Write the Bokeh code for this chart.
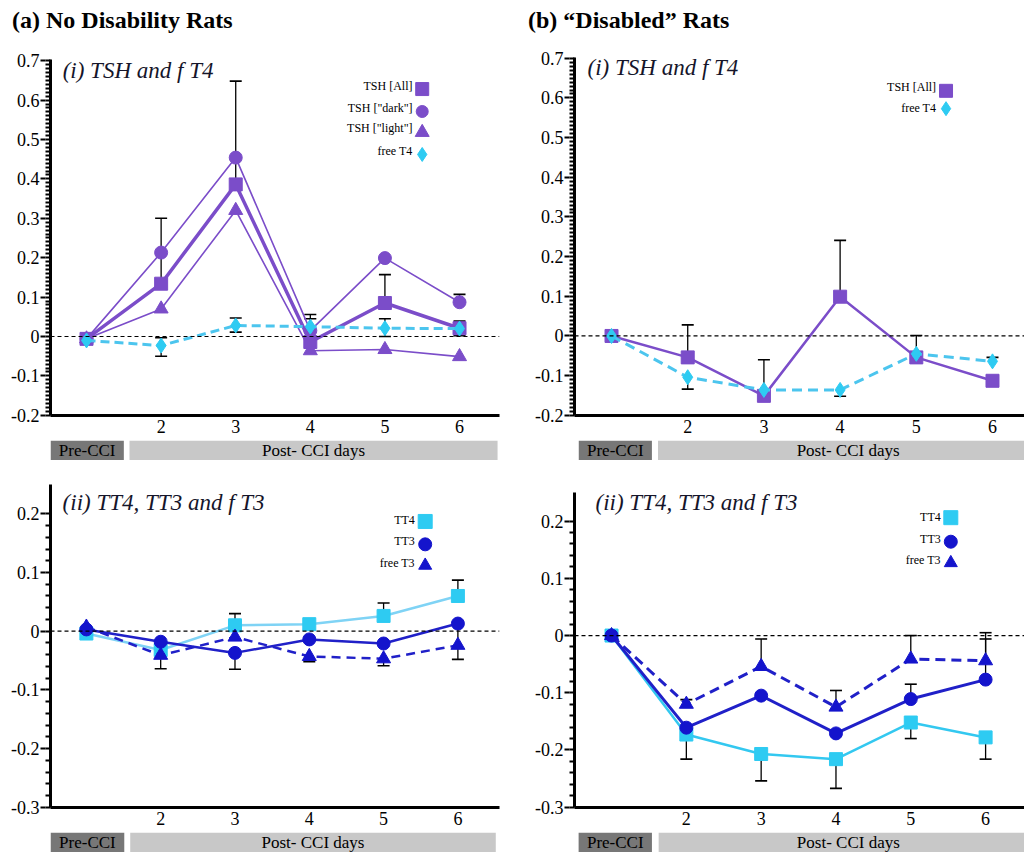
import numpy as np
from bokeh.plotting import figure
from bokeh.models import Range1d, Span, FixedTicker, CustomJSTickFormatter, Div, LinearAxis
from bokeh.layouts import row, column
from bokeh.core.properties import value
from bokeh.embed import file_html
from bokeh.resources import INLINE

nan = np.nan
FONT = "Liberation Serif"

# ---------------- data ----------------
days = [1, 2, 3, 4, 5, 6]
x_tick_days = [2, 3, 4, 5, 6]
x_tick_labels = ["2", "3", "4", "5", "6"]
y_ticks_i = [-0.2, -0.1, 0.0, 0.1, 0.2, 0.3, 0.4, 0.5, 0.6, 0.7]
y_ticks_ii = [-0.3, -0.2, -0.1, 0.0, 0.1, 0.2]

# (a)(i) No disability: TSH and free T4
a_tsh_all = [-0.006, 0.134, 0.386, -0.014, 0.085, 0.021]
a_tsh_dark = [-0.006, 0.213, 0.454, 0.015, 0.199, 0.087]
a_tsh_light = [-0.006, 0.070, 0.320, -0.036, -0.033, -0.051]
a_ft4 = [-0.010, -0.023, 0.028, 0.025, 0.021, 0.020]
a_tsh_all_err = [nan, 0.300, 0.648, 0.056, 0.157, nan]
a_tsh_dark_err = [nan, nan, nan, nan, nan, 0.107]
a_ft4_err_lo = [nan, -0.050, 0.011, nan, 0.000, 0.002]
a_ft4_err_hi = [nan, -0.003, 0.047, 0.045, 0.045, 0.039]

# (b)(i) Disabled: TSH and free T4
b_tsh_all = [0.000, -0.054, -0.151, 0.099, -0.054, -0.113]
b_ft4 = [0.000, -0.104, -0.136, -0.136, -0.045, -0.064]
b_tsh_all_err = [nan, 0.028, -0.060, 0.241, 0.001, nan]
b_ft4_err_lo = [nan, -0.134, nan, -0.152, nan, nan]
b_ft4_err_hi = [nan, nan, nan, nan, nan, -0.054]

# (a)(ii) No disability: TT4, TT3, free T3
a_tt4 = [-0.004, -0.032, 0.010, 0.012, 0.026, 0.060]
a_tt3 = [0.003, -0.018, -0.037, -0.014, -0.021, 0.013]
a_ft3 = [0.007, -0.041, -0.010, -0.043, -0.047, -0.024]
a_tt4_err = [nan, nan, 0.030, nan, 0.048, 0.087]
a_tt3_err = [nan, nan, -0.065, nan, nan, -0.048]
a_ft3_err = [nan, -0.064, nan, -0.052, -0.059, nan]

# (b)(ii) Disabled: TT4, TT3, free T3
b_tt4 = [0.000, -0.173, -0.207, -0.216, -0.152, -0.178]
b_tt3 = [0.000, -0.161, -0.105, -0.171, -0.111, -0.077]
b_ft3 = [0.000, -0.120, -0.054, -0.125, -0.041, -0.044]
b_tt4_err = [nan, -0.216, -0.254, -0.267, -0.180, -0.216]
b_tt3_err = [nan, nan, nan, nan, -0.085, -0.006]
b_ft3_err = [nan, -0.112, -0.006, -0.096, 0.000, 0.005]

legend_i_a = ["TSH [All]", "TSH [\"dark\"]", "TSH [\"light\"]", "free T4"]
legend_i_b = ["TSH [All]", "free T4"]
legend_ii = ["TT4", "TT3", "free T3"]

# ---------------- styles ----------------
PURPLE = "#7B4DC9"
CYAN = "#2ECBF2"
CYAN_LINE = "#4CC5EE"
CYAN_LIGHT_LINE = "#7FD3F5"
BLUE = "#1414CC"
BLUE_LINE = "#2020C8"


def ytick_fmt():
    return CustomJSTickFormatter(code="""
const t = Math.round(tick * 10) / 10;
return t === 0 ? "0" : t.toFixed(1);
""")


def all_ticks(major, n):
    step = (major[1] - major[0]) / n
    out = []
    for i in range(len(major) - 1):
        for j in range(n):
            out.append(round(major[i] + j * step, 4))
    out.append(major[-1])
    return out


def base_fig(width, height, xr, yr, mbl, mbr, mbt, mbb, yticks, minor):
    p = figure(width=width, height=height, x_range=xr, y_range=Range1d(*yr),
               output_backend="svg", toolbar_location=None, y_axis_location=None,
               min_border_left=mbl, min_border_right=mbr,
               min_border_top=mbt, min_border_bottom=mbb)
    p.outline_line_color = None
    p.grid.visible = False
    xa = p.xaxis[0]
    xa.ticker = FixedTicker(ticks=x_tick_days)
    xa.major_label_overrides = dict(zip(x_tick_days, x_tick_labels))
    xa.axis_line_width = 3
    xa.major_tick_out = 0
    xa.major_tick_in = 0
    xa.minor_tick_out = 0
    xa.minor_tick_in = 0
    xa.major_label_standoff = 4
    xa.major_label_text_font = FONT
    xa.major_label_text_font_size = "18px"
    xa.major_label_text_color = "black"

    # inner axis: the line and the fine comb of short ticks, no labels
    comb = LinearAxis(ticker=FixedTicker(ticks=all_ticks(yticks, minor)),
                      formatter=CustomJSTickFormatter(code='return "";'),
                      axis_line_width=3, axis_line_color="black",
                      major_tick_out=5, major_tick_in=0,
                      major_tick_line_width=2, major_tick_line_color="black",
                      minor_tick_out=0, minor_tick_in=0,
                      major_label_standoff=0, major_label_text_font_size="1px")
    # outer axis: longer ticks at the labelled values and the labels
    lab = LinearAxis(ticker=FixedTicker(ticks=yticks), formatter=ytick_fmt(),
                     axis_line_color=None,
                     major_tick_out=5, major_tick_in=0,
                     major_tick_line_width=2, major_tick_line_color="black",
                     minor_tick_out=0, minor_tick_in=0,
                     major_label_standoff=1, major_label_text_font=FONT,
                     major_label_text_font_size="18px",
                     major_label_text_color="black")
    p.add_layout(comb, "left")
    p.add_layout(lab, "left")
    p.add_layout(Span(location=0, dimension="width", line_color="black",
                      line_width=1.2, line_dash="4 3"))
    return p


def errbars(p, base, end, color="black"):
    b = np.array(base, dtype=float)
    e = np.array(end, dtype=float)
    x = np.array(days, dtype=float)
    p.segment(x0=x, y0=b, x1=x, y1=e, line_color=color, line_width=1.3)
    p.scatter(x=x, y=e, marker="dash", size=12, line_color=color, line_width=1.6)


def series(p, y, marker, size, fill, line_color, lw, dash="solid"):
    p.line(days, y, line_color=line_color, line_width=lw, line_dash=dash)
    p.scatter(days, y, marker=marker, size=size, fill_color=fill,
              line_color=fill, line_width=1)


def legend(p, xt, xm, yt, ym, labels, markers, colors, sizes):
    p.text(x=[xt] * len(labels), y=yt, text=labels, text_align="right",
           text_baseline="middle", text_font=value(FONT), text_font_size="12px",
           text_color="black")
    for y, m, c, s in zip(ym, markers, colors, sizes):
        p.scatter(x=[xm], y=[y], marker=m, size=s, fill_color=c, line_color=c)


def subtitle(p, x, y, txt):
    p.text(x=[x], y=[y], text=[txt], text_align="left", text_baseline="middle",
           text_font=value(FONT), text_font_style="italic", text_font_size="23px",
           text_color="#15152a")


def title_div(txt, pad_left):
    return Div(text=txt, width=512, height=40, margin=(0, 0, 0, 0),
               styles={"font-family": FONT, "font-weight": "bold",
                       "font-size": "24px", "padding-left": f"{pad_left}px",
                       "padding-top": "6px", "line-height": "28px",
                       "color": "black", "white-space": "nowrap"})


def strip(xr, width, height, mbl, mbr, pre, post):
    s = figure(width=width, height=height, x_range=xr, y_range=Range1d(0, 1),
               output_backend="svg", toolbar_location=None,
               x_axis_location=None, y_axis_location=None,
               min_border_left=mbl, min_border_right=mbr,
               min_border_top=0, min_border_bottom=0)
    s.outline_line_color = None
    s.grid.visible = False
    s.quad(left=[pre[0], post[0]], right=[pre[1], post[1]], bottom=0, top=1,
           fill_color=["#777777", "#c8c8c8"], line_color=None)
    s.text(x=[(pre[0] + pre[1]) / 2, (post[0] + post[1]) / 2], y=[0.5, 0.5],
           text=["Pre-CCI", "Post- CCI days"], text_align="center",
           text_baseline="middle", text_font=value(FONT), text_font_size="17px",
           text_color="black")
    return s


# ---------------- (a)(i) ----------------
xr_a1 = Range1d(0.517, 6.536)
d1 = title_div("(a) No Disability Rats", 12)
p1 = base_fig(512, 400, xr_a1, (-0.2005, 0.703), 50, 13, 19, 25, y_ticks_i, 10)
errbars(p1, a_tsh_all, a_tsh_all_err)
errbars(p1, a_tsh_dark, a_tsh_dark_err)
errbars(p1, a_ft4, a_ft4_err_lo)
errbars(p1, a_ft4, a_ft4_err_hi)
series(p1, a_tsh_light, "triangle", 14, PURPLE, PURPLE, 1.6)
series(p1, a_tsh_dark, "circle", 13, PURPLE, PURPLE, 1.6)
series(p1, a_tsh_all, "square", 13, PURPLE, PURPLE, 3.5)
series(p1, a_ft4, "diamond", 15, CYAN, CYAN_LINE, 3, dash="9 5")
subtitle(p1, 0.68, 0.675, "(i) TSH and f T4")
legend(p1, 5.37, 5.50, [0.635, 0.579, 0.528, 0.470], [0.628, 0.571, 0.518, 0.462],
       legend_i_a, ["square", "circle", "triangle", "diamond"],
       [PURPLE, PURPLE, PURPLE, CYAN], [13, 12, 14, 14])
s1 = strip(xr_a1, 512, 20, 50, 13, (0.517, 1.50), (1.576, 6.51))

# ---------------- (b)(i) ----------------
xr_b1 = Range1d(0.514, 6.42)
d2 = title_div("(b) \u201cDisabled\u201d Rats", 16)
p2 = base_fig(512, 400, xr_b1, (-0.2005, 0.702), 62, 0, 17, 25, y_ticks_i, 10)
errbars(p2, b_tsh_all, b_tsh_all_err)
errbars(p2, b_ft4, b_ft4_err_lo)
errbars(p2, b_ft4, b_ft4_err_hi)
series(p2, b_tsh_all, "square", 13, PURPLE, PURPLE, 2.5)
series(p2, b_ft4, "diamond", 15, CYAN, CYAN_LINE, 3, dash="10 6")
subtitle(p2, 0.685, 0.676, "(i) TSH and f T4")
legend(p2, 5.26, 5.39, [0.628, 0.575], [0.618, 0.573], legend_i_b,
       ["square", "diamond"], [PURPLE, CYAN], [13, 14])
s2 = strip(xr_b1, 512, 20, 62, 0, (0.57, 1.53), (1.61, 6.6))

# ---------------- (a)(ii) ----------------
xr_a2 = Range1d(0.517, 6.56)
p3 = base_fig(512, 372, xr_a2, (-0.3005, 0.25), 50, 10, 24, 25, y_ticks_ii, 5)
errbars(p3, a_tt4, a_tt4_err)
errbars(p3, a_tt3, a_tt3_err)
errbars(p3, a_ft3, a_ft3_err)
series(p3, a_tt4, "square", 13, CYAN, CYAN_LIGHT_LINE, 2.5)
series(p3, a_ft3, "triangle", 14, BLUE, BLUE_LINE, 2.5, dash="9 6")
series(p3, a_tt3, "circle", 13, BLUE, BLUE_LINE, 2.5)
subtitle(p3, 0.68, 0.219, "(ii) TT4, TT3 and f T3")
legend(p3, 5.42, 5.56, [0.190, 0.153, 0.117], [0.187, 0.148, 0.112], legend_ii,
       ["square", "circle", "triangle"], [CYAN, BLUE, BLUE], [14, 13, 13])
s3 = strip(xr_a2, 512, 20, 50, 10, (0.517, 1.51), (1.59, 6.51))

# ---------------- (b)(ii) ----------------
xr_b2 = Range1d(0.505, 6.52)
p4 = base_fig(512, 372, xr_b2, (-0.3005, 0.25), 62, 0, 32, 25, y_ticks_ii, 5)
errbars(p4, b_tt4, b_tt4_err)
errbars(p4, b_tt3, b_tt3_err)
errbars(p4, b_ft3, b_ft3_err)
series(p4, b_tt4, "square", 13, CYAN, "#33C8F0", 2.5)
series(p4, b_ft3, "triangle", 14, BLUE, BLUE_LINE, 3, dash="10 6")
series(p4, b_tt3, "circle", 13, BLUE, BLUE_LINE, 3)
subtitle(p4, 0.786, 0.233, "(ii) TT4, TT3 and f T3")
legend(p4, 5.40, 5.535, [0.207, 0.169, 0.132], [0.206, 0.164, 0.127], legend_ii,
       ["square", "circle", "triangle"], [CYAN, BLUE, BLUE], [14, 13, 13])
s4 = strip(xr_b2, 512, 20, 62, 0, (0.56, 1.54), (1.63, 6.7))

layout = row(column(d1, p1, s1, p3, s3, spacing=0),
             column(d2, p2, s2, p4, s4, spacing=0), spacing=0)

open("out.html", "w").write(file_html(layout, INLINE))
